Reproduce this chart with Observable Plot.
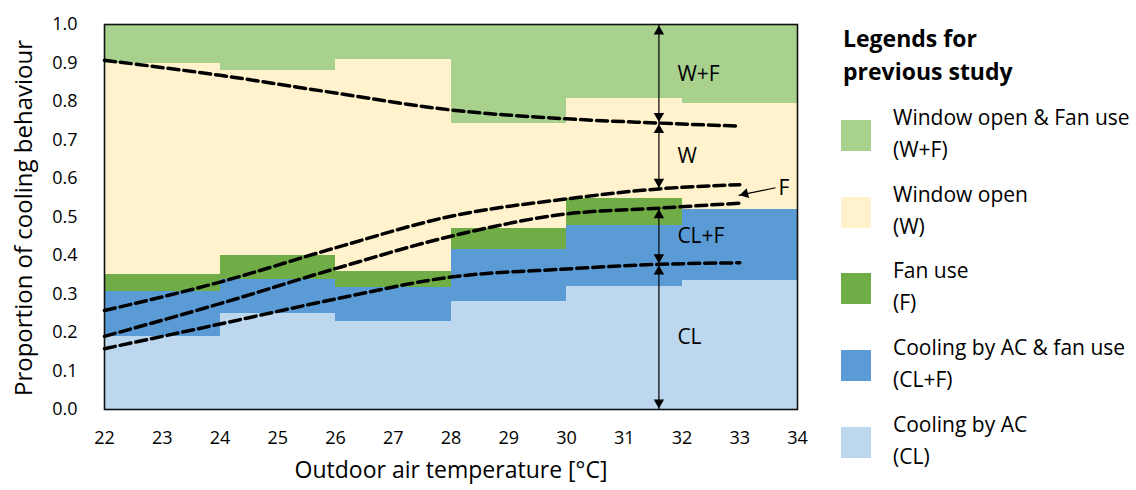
<!DOCTYPE html>
<html><head><meta charset="utf-8">
<script src="https://cdn.jsdelivr.net/npm/d3@7"></script>
<script src="https://cdn.jsdelivr.net/npm/@observablehq/plot@0.6"></script>
<style>
body{margin:0;background:#fff;font-family:"Open Sans",sans-serif;}
#wrap{position:relative;width:1136px;height:490px;overflow:hidden}
.leg-title{position:absolute;left:843px;top:22px;font-weight:bold;font-size:23px;line-height:33px;color:#000}
.sw{position:absolute;left:841px;width:30px;height:31px}
.lt{position:absolute;left:893px;font-size:21px;line-height:32px;color:#000;white-space:nowrap}
</style></head><body><div id="wrap"></div>
<script>
// ---- data ----
const binStarts = [22, 24, 26, 28, 30, 32];
const binWidth = 2;
const behaviours = ["CL", "CL+F", "F", "W", "W+F"];
const CL  = [0.190, 0.250, 0.229, 0.281, 0.319, 0.335];
const CLF = [0.116, 0.088, 0.089, 0.135, 0.159, 0.184];
const F   = [0.044, 0.061, 0.040, 0.053, 0.070, 0.000];
const W   = [0.549, 0.481, 0.550, 0.274, 0.261, 0.277];
const WF  = [0.101, 0.120, 0.092, 0.257, 0.191, 0.204];
const series = {"CL": CL, "CL+F": CLF, "F": F, "W": W, "W+F": WF};

// dashed model curves (previous study)
const curveX = [22, 24, 26, 28, 30, 31.6, 33];
const curveWF = [0.907, 0.868, 0.822, 0.778, 0.755, 0.744, 0.736];
const curveW  = [0.257, 0.331, 0.420, 0.502, 0.547, 0.573, 0.584];
const curveF  = [0.190, 0.275, 0.366, 0.450, 0.508, 0.523, 0.536];
const curveCL = [0.158, 0.222, 0.287, 0.344, 0.365, 0.377, 0.381];

const xTicks = [22, 23, 24, 25, 26, 27, 28, 29, 30, 31, 32, 33, 34];
const yTicks = [0, 0.1, 0.2, 0.3, 0.4, 0.5, 0.6, 0.7, 0.8, 0.9, 1.0];

const legendOrder = ["W+F", "W", "F", "CL+F", "CL"];
const legendNames = ["Window open & Fan use", "Window open", "Fan use", "Cooling by AC & fan use", "Cooling by AC"];
const legendTitle = ["Legends for", "previous study"];
const xLabel = "Outdoor air temperature [°C]";
const yLabel = "Proportion of cooling behaviour";

// annotation: arrow position and labels
const arrowAt = 5; // index into curveX (31.6)
const segLabels = ["W+F", "W", "CL+F", "CL"];
const fLabel = "F";
const fArrowFrom = [33.62, 0.576];
const fArrowTo = [32.98, 0.556];

// ---- styles ----
const colors = {"W+F": "#a9d18e", "W": "#fff2cc", "F": "#70ad47", "CL+F": "#5b9bd5", "CL": "#bdd7ee"};

// ---- build tables ----
const table = [];
binStarts.forEach((x0, i) => {
  behaviours.forEach(b => table.push({x1: x0, x2: x0 + binWidth, value: series[b][i], behaviour: b}));
});
const curves = [];
[["WF", curveWF], ["W", curveW], ["F", curveF], ["CL", curveCL]].forEach(([k, arr]) => {
  arr.forEach((v, i) => curves.push({curve: k, x: curveX[i], y: v}));
});
const ax = curveX[arrowAt];
const segs = [
  {y1: 1.0, y2: curveWF[arrowAt], label: segLabels[0]},
  {y1: curveWF[arrowAt], y2: curveW[arrowAt], label: segLabels[1]},
  {y1: curveF[arrowAt], y2: curveCL[arrowAt], label: segLabels[2]},
  {y1: curveCL[arrowAt], y2: 0, label: segLabels[3]}
];

const chart = Plot.plot({
  width: 1136,
  height: 490,
  marginLeft: 104,
  marginRight: 339,
  marginTop: 24,
  marginBottom: 81,
  style: {fontFamily: "'Open Sans', sans-serif", fontSize: "18px", color: "#000", background: "white", overflow: "visible"},
  x: {domain: [22, 34], ticks: xTicks, tickFormat: d => String(d), tickSize: 0, tickPadding: 22, label: null},
  y: {domain: [0, 1], ticks: yTicks, tickFormat: d => d.toFixed(1), tickSize: 0, tickPadding: 27, label: null},
  color: {domain: Object.keys(colors), range: Object.values(colors)},
  marks: [
    Plot.rectY(table, {x1: "x1", x2: "x2", y: "value", fill: "behaviour", shapeRendering: "crispEdges"}),
    Plot.frame({stroke: "#111", strokeWidth: 1.6}),
    Plot.line(curves, {x: "x", y: "y", z: "curve", curve: "monotone-x", stroke: "black", strokeWidth: 3.5, strokeDasharray: "11,5"}),
    Plot.ruleX(segs, {x: ax, y1: "y1", y2: "y2", stroke: "black", strokeWidth: 1.2}),
    Plot.dot(segs, {x: ax, y: "y1", symbol: "triangle2", r: 5, fill: "black", stroke: null, dy: 7}),
    Plot.dot(segs, {x: ax, y: "y2", symbol: "triangle2", r: 5, fill: "black", stroke: null, rotate: 180, dy: -7}),
    Plot.text(segs, {x: 31.92, y: d => (d.y1 + d.y2) / 2, text: "label", textAnchor: "start", fontSize: 21}),
    Plot.link([0], {x1: fArrowFrom[0], y1: fArrowFrom[1], x2: fArrowTo[0], y2: fArrowTo[1], stroke: "black", strokeWidth: 1.2}),
    Plot.dot([0], {x: fArrowTo[0], y: fArrowTo[1], symbol: "triangle2", r: 4.8, fill: "black", stroke: null, rotate: 256, dx: 6.5, dy: -1.6}),
    Plot.text([fLabel], {x: fArrowFrom[0] + 0.05, y: fArrowFrom[1] - 0.002, text: d => d, textAnchor: "start", fontSize: 21}),
    Plot.text([xLabel], {frameAnchor: "bottom", dy: 68, text: d => d, fontSize: 23}),
    Plot.text([yLabel], {frameAnchor: "left", textAnchor: "middle", dx: -80, dy: 1, rotate: -90, text: d => d, fontSize: 24})
  ]
});
const wrap = document.getElementById("wrap");
wrap.appendChild(chart);

// legend (HTML, right side)
const t = document.createElement("div");
t.className = "leg-title";
t.innerHTML = legendTitle.join("<br>");
wrap.appendChild(t);
const tops = [120, 197, 273, 350, 427];
legendOrder.forEach((b, i) => {
  const s = document.createElement("div");
  s.className = "sw";
  s.style.top = tops[i] + "px";
  s.style.background = colors[b];
  wrap.appendChild(s);
  const l = document.createElement("div");
  l.className = "lt";
  l.style.top = (tops[i] - 19) + "px";
  l.innerHTML = legendNames[i] + "<br>(" + b + ")";
  wrap.appendChild(l);
});
</script></body></html>
